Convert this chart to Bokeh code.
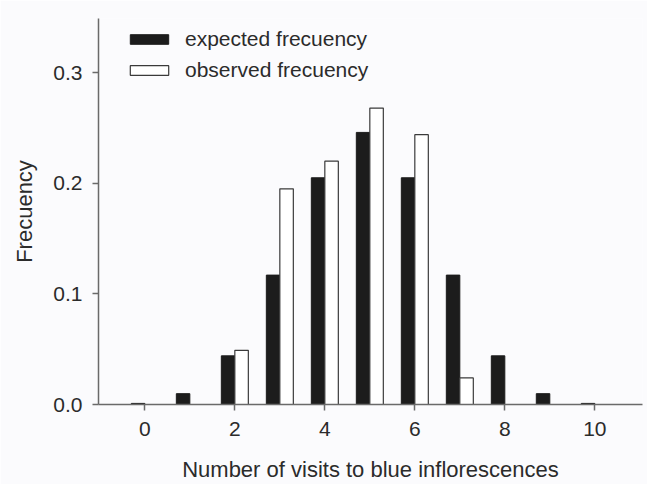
from bokeh.plotting import figure
from bokeh.models import Legend, LegendItem, ColumnDataSource, FixedTicker
from bokeh.embed import file_html
from bokeh.resources import INLINE

visits = [0, 1, 2, 3, 4, 5, 6, 7, 8, 9, 10]
expected = [0.001, 0.0098, 0.044, 0.117, 0.205, 0.246, 0.205, 0.117, 0.044, 0.0098, 0.001]
observed = [0.0, 0.0, 0.049, 0.195, 0.220, 0.268, 0.244, 0.024, 0.0, 0.0, 0.0]
x_ticks = [0, 2, 4, 6, 8, 10]
y_ticks = [0.0, 0.1, 0.2, 0.3]

BW = 0.3
src = ColumnDataSource(dict(
    xe=[v - BW / 2 for v in visits],
    xo=[v + BW / 2 for v in visits],
    exp=expected,
    obs=observed,
))

FONT = "Liberation Sans"
TXT = "#2b2b2b"
AX = "#6a6a6a"

p = figure(width=647, height=484, output_backend="svg", toolbar_location=None,
           x_range=(-1.03, 11.06), y_range=(0, 0.349),
           min_border_left=98, min_border_right=5, min_border_top=18, min_border_bottom=77,
           background_fill_color="#fbfbfd", border_fill_color="#fbfbfd")
p.outline_line_color = None
p.grid.visible = False

r_exp = p.vbar(x="xe", top="exp", width=BW, bottom=0, source=src,
               fill_color="#1c1c1c", line_color="#1c1c1c", line_width=1)
r_obs = p.vbar(x="xo", top="obs", width=BW, bottom=0, source=src,
               fill_color="#ffffff", line_color="#3a3a3a", line_width=1.2)

for ax in (p.xaxis[0], p.yaxis[0]):
    ax.axis_line_color = AX
    ax.axis_line_width = 1.5
    ax.major_tick_line_color = AX
    ax.major_tick_line_width = 1.5
    ax.major_tick_out = 6
    ax.major_tick_in = 0
    ax.minor_tick_line_color = None
    ax.major_label_text_font = FONT
    ax.major_label_text_font_size = "21px"
    ax.major_label_text_color = TXT
    ax.axis_label_text_font = FONT
    ax.axis_label_text_font_size = "22px"
    ax.axis_label_text_font_style = "normal"
    ax.axis_label_text_color = TXT

p.xaxis.ticker = FixedTicker(ticks=x_ticks)
p.yaxis.ticker = FixedTicker(ticks=y_ticks)
p.yaxis.major_label_overrides = {0.0: "0.0", 0.1: "0.1", 0.2: "0.2", 0.3: "0.3"}
p.xaxis.axis_label = "Number of visits to blue inflorescences"
p.yaxis.axis_label = "Frecuency"
p.xaxis.major_label_standoff = 11
p.xaxis.axis_label_standoff = 18
p.yaxis.major_label_standoff = 10
p.yaxis.axis_label_standoff = 13

legend = Legend(items=[LegendItem(label="expected frecuency", renderers=[r_exp]),
                       LegendItem(label="observed frecuency", renderers=[r_obs])],
                location=(27, 322), orientation="vertical")
legend.margin = 0
legend.padding = 0
legend.spacing = 7
legend.glyph_width = 48
legend.glyph_height = 12
legend.label_height = 20
legend.label_standoff = 12
legend.label_text_font = FONT
legend.label_text_font_size = "21px"
legend.label_text_color = TXT
legend.border_line_color = None
legend.background_fill_alpha = 0
p.add_layout(legend, "center")

open("out.html", "w").write(file_html(p, INLINE))
